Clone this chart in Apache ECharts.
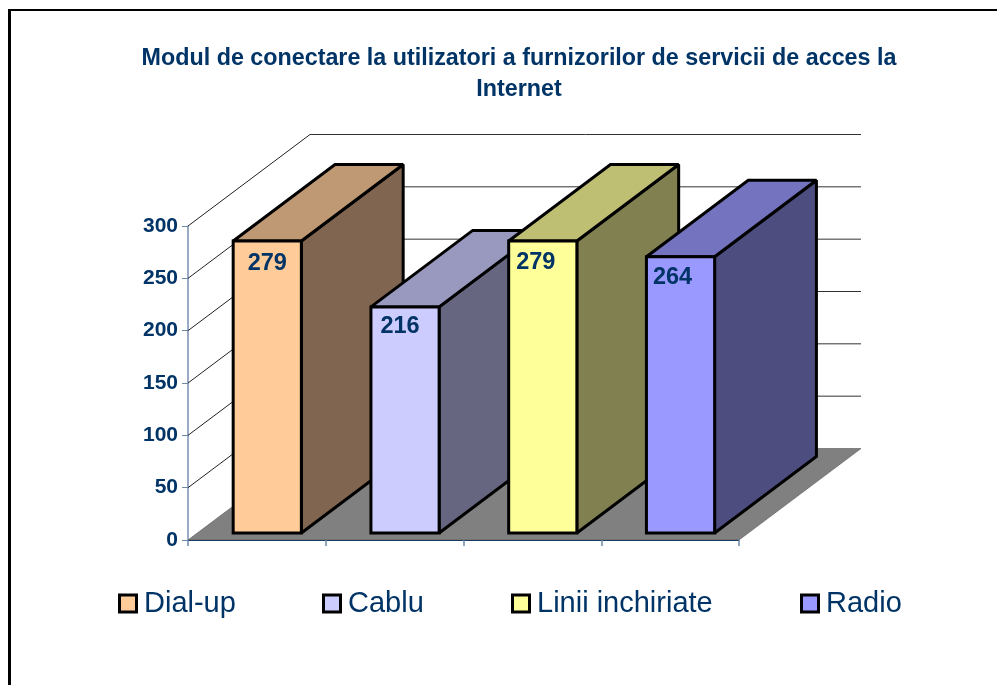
<!DOCTYPE html>
<html>
<head>
<meta charset="utf-8">
<style>html,body{margin:0;padding:0;background:#fff}#c{width:997px;height:685px}</style>
<script src="https://cdn.jsdelivr.net/npm/echarts@6/dist/echarts.min.js"></script>
</head>
<body>
<div id="c"></div>
<script>
const categories = ['Dial-up', 'Cablu', 'Linii inchiriate', 'Radio'];
const values = [279, 216, 279, 264];
const yTicks = [0, 50, 100, 150, 200, 250, 300];
const titleLines = ['Modul de conectare la utilizatori a furnizorilor de servicii de acces la', 'Internet'];

const frontColors = ['#FFCC99', '#CCCCFF', '#FFFF99', '#9999FF'];
const topColors = ['#BF9973', '#9999BF', '#BFBF73', '#7373BF'];
const sideColors = ['#806650', '#666680', '#808050', '#4D4D80'];
const legendLeft = [118, 322, 511, 800];
const labelNudgeX = [0, -5, -7, -8];
const labelNudgeY = [23, 20, 21.5, 20.5];

const NAVY = '#003366';
const depthX = 122, depthY = -91.5;
const gapX = 10.4, gapY = -7;
const barDX = 101.8, barDY = -76.5;

function wallItem(params, api) {
  const children = [];
  const p0 = api.coord([0, 0]);
  const band = api.size([1, 0])[0];
  const left = p0[0] - band / 2;
  const right = left + band * categories.length;
  const base = p0[1];
  children.push({
    type: 'polygon',
    shape: { points: [[left, base], [right, base], [right + depthX, base + depthY], [left + depthX, base + depthY]] },
    style: { fill: '#808080', stroke: '#555', lineWidth: 0.6 }
  });
  yTicks.forEach(function (t) {
    const y = api.coord([0, t])[1];
    if (t > 0) {
      children.push({ type: 'line', shape: { x1: left, y1: y, x2: left + depthX, y2: y + depthY },
        style: { stroke: '#222', lineWidth: 1 } });
      children.push({ type: 'line', shape: { x1: left + depthX, y1: y + depthY, x2: right + depthX, y2: y + depthY },
        style: { stroke: '#333', lineWidth: 1 } });
    }
  });
  return { type: 'group', children: children };
}

function barItem(idx) {
  return function (params, api) {
    const top = api.coord([idx, api.value(1)]);
    const bottom = api.coord([idx, 0]);
    const band = api.size([1, 0])[0];
    const w = band * 0.495;
    const x0 = top[0] - w / 2 + gapX, x1 = x0 + w;
    const yT = top[1] + gapY, yB = bottom[1] + gapY;
    const stroke = { stroke: '#000', lineWidth: 3, lineJoin: 'miter', miterLimit: 2 };
    return {
      type: 'group',
      children: [
        { type: 'polygon', shape: { points: [[x1, yT], [x1 + barDX, yT + barDY], [x1 + barDX, yB + barDY], [x1, yB]] },
          style: Object.assign({ fill: sideColors[idx] }, stroke) },
        { type: 'polygon', shape: { points: [[x0, yT], [x0 + barDX, yT + barDY], [x1 + barDX, yT + barDY], [x1, yT]] },
          style: Object.assign({ fill: topColors[idx] }, stroke) },
        { type: 'rect', shape: { x: x0, y: yT, width: w, height: yB - yT },
          style: Object.assign({ fill: frontColors[idx] }, stroke) },
        { type: 'text', style: {
            text: String(api.value(1)),
            x: top[0] + gapX + labelNudgeX[idx], y: yT + labelNudgeY[idx],
            fill: NAVY, font: 'bold 23.5px "Liberation Sans", Arial, sans-serif',
            align: 'center', verticalAlign: 'middle' } }
      ]
    };
  };
}

const chart = echarts.init(document.getElementById('c'), null, { renderer: 'canvas' });
chart.setOption({
  animation: false,
  backgroundColor: '#fff',
  title: {
    text: titleLines.join('\n'),
    left: 514, top: 38, textAlign: 'center',
    textStyle: { fontFamily: '"Liberation Sans", Arial, sans-serif', fontWeight: 'bold', fontSize: 23.3, lineHeight: 31, color: NAVY }
  },
  legend: categories.map(function (name, i) {
    return {
      data: [name], left: legendLeft[i], top: 589, orient: 'horizontal', selectedMode: false,
      padding: 0,
      itemWidth: 17, itemHeight: 17,
      itemStyle: { borderColor: '#000', borderWidth: 3 },
      icon: 'rect',
      textStyle: { fontFamily: '"Liberation Sans", Arial, sans-serif', fontSize: 29, color: NAVY, padding: [5, 0, 0, 2.5] }
    };
  }),
  grid: { left: 188, top: 226, right: 258, bottom: 145 },
  xAxis: {
    type: 'category', data: categories,
    axisLabel: { show: false },
    axisLine: { show: true, lineStyle: { color: NAVY, width: 1 } },
    axisTick: { show: true, alignWithLabel: false, length: 6, inside: false, lineStyle: { color: '#6C89AB', width: 1.5 } }
  },
  yAxis: {
    type: 'value', min: 0, max: 300, interval: 50,
    axisLine: { show: true, lineStyle: { color: '#7891B1', width: 1.5 } },
    axisTick: { show: true, length: 6, inside: false, lineStyle: { color: '#6C89AB', width: 1 } },
    splitLine: { show: false },
    axisLabel: { margin: 10, fontFamily: '"Liberation Sans", Arial, sans-serif', fontWeight: 'bold', fontSize: 21, color: NAVY }
  },
  graphic: [
    { type: 'line', shape: { x1: 8, y1: 10, x2: 997, y2: 10 }, style: { stroke: '#000', lineWidth: 2 } },
    { type: 'line', shape: { x1: 9.5, y1: 10, x2: 9.5, y2: 685 }, style: { stroke: '#000', lineWidth: 3 } }
  ],
  series: [
    { type: 'custom', name: 'walls', silent: true, renderItem: wallItem, data: [[0, 0]], z: 1, encode: { x: 0, y: 1 } }
  ].concat(categories.map(function (name, i) {
    return {
      type: 'custom', name: name, z: 2,
      renderItem: barItem(i),
      itemStyle: { color: frontColors[i] },
      data: [[i, values[i]]],
      encode: { x: 0, y: 1 }
    };
  }))
});
</script>
</body>
</html>
